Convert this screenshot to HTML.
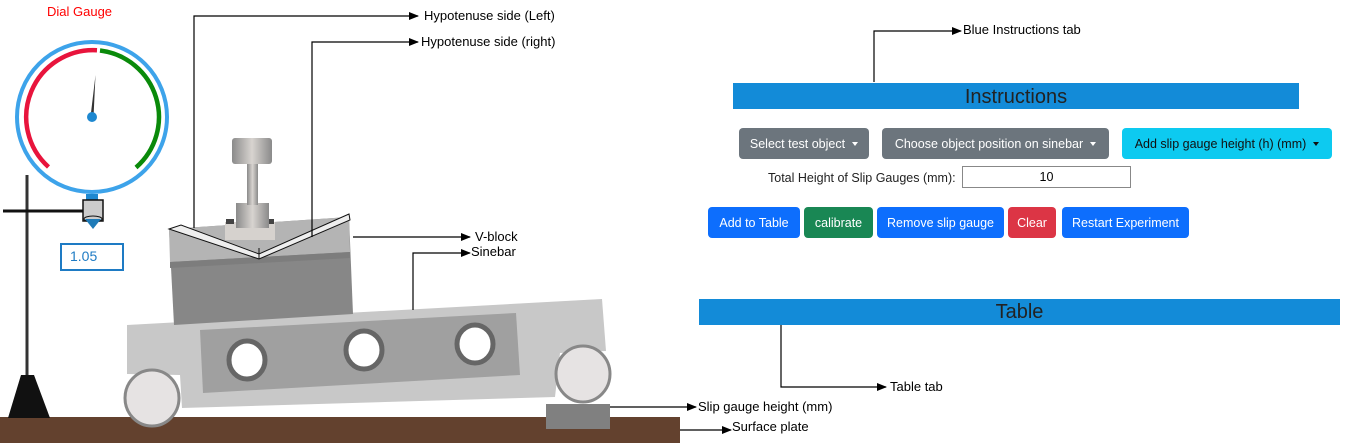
<!DOCTYPE html>
<html><head><meta charset="utf-8"><style>
body{margin:0;width:1346px;height:443px;background:#fff;position:relative;overflow:hidden;font-family:"Liberation Sans",sans-serif}
.a{position:absolute;white-space:nowrap}
.lb{font-size:13px;color:#000}
.btn{position:absolute;border-radius:4px;color:#fff;font-size:12.5px;display:flex;align-items:center;justify-content:center;white-space:nowrap}
.car::after{content:"";border-top:4px solid currentColor;border-left:3.5px solid transparent;border-right:3.5px solid transparent;margin-left:7px}
</style></head><body>
<svg class="a" style="left:0;top:0" width="1346" height="443">
<defs><marker id="ar" markerWidth="10" markerHeight="8" refX="9" refY="4" orient="auto" markerUnits="userSpaceOnUse"><path d="M0,0 L10,4 L0,8z" fill="#000"/></marker>
<linearGradient id="cy" x1="0" x2="1"><stop offset="0" stop-color="#8a8a8a"/><stop offset="0.5" stop-color="#d8d4d0"/><stop offset="1" stop-color="#8a8a8a"/></linearGradient></defs>
<!-- surface plate -->
<rect x="0" y="417" width="680" height="26" fill="#63412e"/>
<!-- stand -->
<line x1="27" y1="175" x2="27" y2="390" stroke="#333" stroke-width="3"/>
<polygon points="8,418 50,418 34,375 21,375" fill="#111"/>
<line x1="3" y1="211" x2="86" y2="211" stroke="#111" stroke-width="3"/>
<!-- dial -->
<circle cx="92" cy="117" r="75" fill="#fff" stroke="#3da3ea" stroke-width="4"/>
<path d="M48.5,167 A67,67 0 0 1 97,50.2" fill="none" stroke="#e8143c" stroke-width="4.5"/>
<path d="M100,50.5 A67,67 0 0 1 136,167.5" fill="none" stroke="#0a8a0a" stroke-width="4.5"/>
<polygon points="90.5,117 93.5,117 95.5,75" fill="#333"/>
<circle cx="92" cy="117" r="5" fill="#1e88d0"/>
<rect x="86" y="194" width="12" height="7" fill="#1e88d0"/>
<rect x="83" y="200" width="20" height="21" fill="#ccc" stroke="#111" stroke-width="1.5"/>
<ellipse cx="93" cy="219" rx="9" ry="3" fill="none" stroke="#111"/>
<polygon points="85,219 101,219 93,229" fill="#1e7bb8"/>
<!-- sinebar -->
<polygon points="127,325 602,299 606,351 560,353 555,397 182,408 180,375 127,374" fill="#c8c8c8"/>
<polygon points="200,330 516,313 520,375 203,393" fill="#a0a0a0"/>
<g fill="#fff" stroke="#666" stroke-width="5"><ellipse cx="247" cy="360" rx="18" ry="19"/><ellipse cx="364" cy="350" rx="18" ry="19"/><ellipse cx="475" cy="344" rx="18" ry="19"/></g>
<g fill="#e6e3e3" stroke="#888" stroke-width="3"><ellipse cx="152" cy="398" rx="27" ry="28"/><ellipse cx="583" cy="374" rx="27" ry="28"/></g>
<rect x="546" y="404" width="64" height="25" fill="#808080"/>
<!-- v-block -->
<polygon points="169,229 349,217 353,314 174,325" fill="#878787"/>
<polygon points="169,229 349,217 350,252 170,262" fill="#b4b4b4"/>
<polygon points="170,262 350,252 350,258 170,268" fill="#7d7d7d"/>
<!-- object -->
<rect x="225" y="222" width="50" height="18" fill="#d6d2ce"/>
<rect x="226" y="219" width="8" height="5" fill="#444"/><rect x="266" y="219" width="8" height="5" fill="#444"/>
<rect x="236" y="203" width="33" height="25" fill="url(#cy)"/>
<rect x="247" y="163" width="11" height="42" fill="url(#cy)"/>
<rect x="232" y="138" width="40" height="26" rx="3" fill="url(#cy)"/>
<polygon points="169,229 181,225 259,254 349,214 350,220 259,259" fill="#eee" stroke="#111" stroke-width="1"/>
<line x1="259" y1="248" x2="259" y2="259" stroke="#111"/>
<!-- value box -->
<rect x="61" y="244" width="62" height="26" fill="#fff" stroke="#1e7bc4" stroke-width="2"/>
<!-- leader lines -->
<g stroke="#000" stroke-width="1.2" fill="none">
<polyline points="194,228 194,16 418,16" marker-end="url(#ar)"/>
<polyline points="312,237 312,42 418,42" marker-end="url(#ar)"/>
<polyline points="353,237 470,237" marker-end="url(#ar)"/>
<polyline points="413,310 413,253 470,253" marker-end="url(#ar)"/>
<polyline points="610,407 696,407" marker-end="url(#ar)"/>
<polyline points="680,430 731,430" marker-end="url(#ar)"/>
<polyline points="874,82 874,31 961,31" marker-end="url(#ar)"/>
<polyline points="781,325 781,387 886,387" marker-end="url(#ar)"/>
</g>
</svg>
<div class="a" style="left:47px;top:4px;font-size:13px;color:#f00">Dial Gauge</div>
<div class="a" style="left:70px;top:248px;font-size:14px;color:#1e7bc4">1.05</div>
<div class="a lb" style="left:424px;top:8px">Hypotenuse side (Left)</div>
<div class="a lb" style="left:421px;top:34px">Hypotenuse side (right)</div>
<div class="a lb" style="left:475px;top:229px">V-block</div>
<div class="a lb" style="left:471px;top:244px">Sinebar</div>
<div class="a lb" style="left:698px;top:399px">Slip gauge height (mm)</div>
<div class="a lb" style="left:732px;top:419px">Surface plate</div>
<div class="a lb" style="left:963px;top:22px">Blue Instructions tab</div>
<div class="a lb" style="left:890px;top:379px">Table tab</div>
<div class="a" style="left:733px;top:83px;width:566px;height:26px;background:#138bd8;color:#222;font-size:20px;text-align:center;line-height:28px">Instructions</div>
<div class="a" style="left:699px;top:299px;width:641px;height:26px;background:#138bd8;color:#222;font-size:20px;text-align:center;line-height:27px">Table</div>
<div class="btn car" style="left:739px;top:128px;width:130px;height:31px;background:#6c757d">Select test object</div>
<div class="btn car" style="left:882px;top:128px;width:227px;height:31px;background:#6c757d">Choose object position on sinebar</div>
<div class="btn car" style="left:1122px;top:128px;width:210px;height:31px;background:#0dcaf0;color:#111">Add slip gauge height (h) (mm)</div>
<div class="a" style="left:768px;top:171px;font-size:12.5px;color:#222">Total Height of Slip Gauges (mm):</div>
<div class="a" style="left:962px;top:166px;width:167px;height:20px;border:1px solid #888;text-align:center;font-size:12.5px;line-height:20px">10</div>
<div class="btn" style="left:708px;top:207px;width:92px;height:31px;background:#0d6efd">Add to Table</div>
<div class="btn" style="left:804px;top:207px;width:69px;height:31px;background:#198754">calibrate</div>
<div class="btn" style="left:877px;top:207px;width:127px;height:31px;background:#0d6efd">Remove slip gauge</div>
<div class="btn" style="left:1008px;top:207px;width:48px;height:31px;background:#dc3545">Clear</div>
<div class="btn" style="left:1062px;top:207px;width:127px;height:31px;background:#0d6efd">Restart Experiment</div>
</body></html>
